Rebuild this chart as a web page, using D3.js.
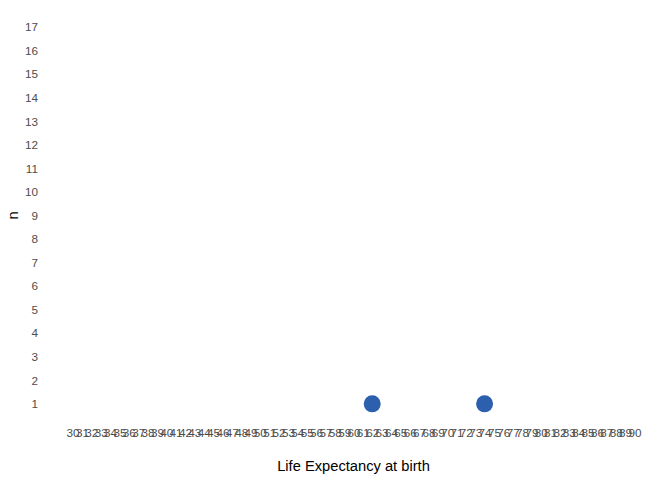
<!DOCTYPE html>
<html>
<head>
<meta charset="utf-8">
<script src="https://cdn.jsdelivr.net/npm/d3@7"></script>
<style>
  html, body { margin: 0; padding: 0; background: #ffffff; }
  svg { display: block; font-family: "Liberation Sans", Arial, Helvetica, sans-serif; }
</style>
</head>
<body>
<svg id="chart" width="672" height="480"></svg>
<script>
// Data
const xCategories = ["30","31","32","33","34","35","36","37","38","39","40","41","42","43","44","45","46","47","48","49","50","51","52","53","54","55","56","57","58","59","60","61","62","63","64","65","66","67","68","69","70","71","72","73","74","75","76","77","78","79","80","81","82","83","84","85","86","87","88","89","90"];
const yCategories = ["1","2","3","4","5","6","7","8","9","10","11","12","13","14","15","16","17"];
const pointLifeExp = ["62", "74"];
const pointCount = ["1", "1"];
const xTitle = "Life Expectancy at birth";
const yTitle = "n";

const svg = d3.select("#chart");
const panel = { left: 67, right: 640, top: 13, bottom: 418 };

const x = d3.scalePoint().domain(xCategories).range([panel.left, panel.right]).padding(0.6);
const y = d3.scalePoint().domain(yCategories).range([panel.bottom, panel.top]).padding(0.6);

// x axis
const xAxis = svg.append("g")
  .attr("transform", `translate(0,${panel.bottom})`)
  .call(d3.axisBottom(x).tickSize(0).tickPadding(11));
xAxis.select(".domain").remove();
xAxis.selectAll("text")
  .attr("fill", "#4d4d4d")
  .style("font-size", "11.7px")
  .style("font-family", "'Liberation Sans', Arial, sans-serif");

// y axis
const yAxis = svg.append("g")
  .attr("transform", `translate(${panel.left},0)`)
  .call(d3.axisLeft(y).tickSize(0).tickPadding(29));
yAxis.select(".domain").remove();
yAxis.selectAll("text")
  .attr("fill", "#4d4d4d")
  .style("font-size", "11.7px")
  .style("font-family", "'Liberation Sans', Arial, sans-serif");

// points
const pts = pointLifeExp.map((v, i) => ({ x: v, y: pointCount[i] }));
svg.append("g").selectAll("circle")
  .data(pts)
  .join("circle")
  .attr("cx", d => x(d.x))
  .attr("cy", d => y(d.y))
  .attr("r", 8.5)
  .attr("fill", "#2c5fae");

// titles
svg.append("text")
  .attr("x", (panel.left + panel.right) / 2)
  .attr("y", 471)
  .attr("text-anchor", "middle")
  .attr("fill", "#000")
  .style("font-size", "14.7px")
  .text(xTitle);

svg.append("text")
  .attr("transform", `translate(18,${(panel.top + panel.bottom) / 2}) rotate(-90)`)
  .attr("text-anchor", "middle")
  .attr("fill", "#000")
  .style("font-size", "14.7px")
  .text(yTitle);
</script>
</body>
</html>
